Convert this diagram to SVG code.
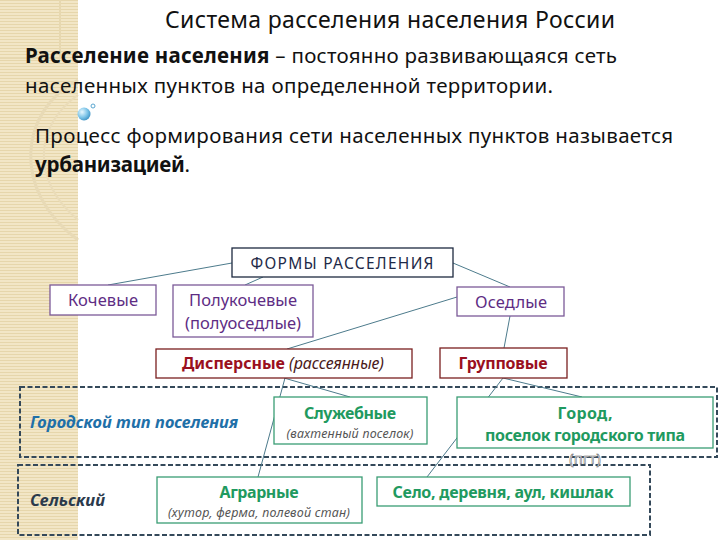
<svg xmlns="http://www.w3.org/2000/svg" width="720" height="540" viewBox="0 0 720 540">
<defs>
<pattern id="stripes" width="6" height="3" patternUnits="userSpaceOnUse">
<rect width="6" height="3" fill="#f2e6c6"/>
<rect width="6" height="1" fill="#e6d6ab"/>
</pattern>
<radialGradient id="bub" cx="0.35" cy="0.35" r="0.7">
<stop offset="0" stop-color="#e8f8ff"/>
<stop offset="0.6" stop-color="#7cc4e8"/>
<stop offset="1" stop-color="#3f93c4"/>
</radialGradient>
<style>
text{font-family:"Noto Sans","Open Sans","DejaVu Sans",sans-serif;}
.head{font-size:20.5px;fill:#111;}
.title{font-size:23px;fill:#111;}
.b{font-weight:bold;}
.node{fill:#fff;stroke-width:1.3;}
.nav{stroke:#1e2a40;}
.pur{stroke:#7c5a98;}
.red{stroke:#7a1f1f;}
.grn{stroke:#3a9d74;}
.tnav{fill:#1e2a48;font-size:15.5px;}
.tpur{fill:#5e2d84;font-size:16.5px;}
.tred{fill:#9a1020;font-size:16px;font-weight:bold;}
.tgrn{fill:#1f9a60;font-size:16px;font-weight:bold;}
.tsm{fill:#555;font-size:12.5px;font-style:italic;}
.dash{fill:none;stroke:#34495a;stroke-width:2;stroke-dasharray:5 2.5;}
.conn line{stroke:#4d7b8c;stroke-width:1;}
</style>
</defs>
<rect width="720" height="540" fill="#fff"/>
<g id="strip">
<rect x="0" y="0" width="78" height="540" fill="url(#stripes)"/>
<path d="M60,0 L60,58 L0,58" fill="none" stroke="#e7d8b0" stroke-width="2"/>
<path d="M78,80 C20,110 10,190 78,240" fill="none" stroke="#e8dab6" stroke-width="3"/>
<path d="M78,95 C35,125 30,180 78,220" fill="none" stroke="#eadcb9" stroke-width="2"/>
</g>
<g id="bubble">
<circle cx="84" cy="114" r="6.5" fill="url(#bub)"/>
<circle cx="93" cy="106" r="2" fill="#fff" stroke="#5aa6d0" stroke-width="1"/>
</g>
<g id="header">
<text x="390" y="28" text-anchor="middle" class="title" textLength="450">Система расселения населения России</text>
<text x="25" y="63" class="head" textLength="592"><tspan class="b">Расселение населения</tspan> – постоянно развивающаяся сеть</text>
<text x="25" y="93" class="head" textLength="528">населенных пунктов на определенной территории.</text>
<text x="35" y="143" class="head" textLength="638">Процесс формирования сети населенных пунктов называется</text>
<text x="35" y="172" class="head" textLength="155"><tspan class="b">урбанизацией</tspan>.</text>
</g>
<g id="zones">
<rect id="zone-city" x="20" y="387" width="697" height="70" class="dash"/>
<rect id="zone-rural" x="18" y="465" width="632" height="70" class="dash"/>
</g>
<g class="conn" id="connectors">
<line x1="232" y1="263" x2="108" y2="285"/>
<line x1="263" y1="277" x2="245" y2="285"/>
<line x1="453" y1="263" x2="510" y2="287"/>
<line x1="457" y1="297" x2="287" y2="349"/>
<line x1="510" y1="316" x2="504" y2="348"/>
<line x1="284" y1="378" x2="350" y2="397"/>
<line x1="285" y1="378" x2="258" y2="477"/>
<line x1="503" y1="378" x2="582" y2="397"/>
<line x1="503" y1="378" x2="427" y2="477"/>
</g>
<g id="n-formy">
<rect x="232" y="248" width="221" height="29" class="node nav"/>
<text x="342" y="269" text-anchor="middle" class="tnav" textLength="183">ФОРМЫ РАССЕЛЕНИЯ</text>
</g>
<g id="n-kochevye">
<rect x="50" y="285" width="106" height="30" class="node pur"/>
<text x="103" y="306" text-anchor="middle" class="tpur" textLength="70">Кочевые</text>
</g>
<g id="n-polukochevye">
<rect x="173" y="285" width="140" height="52" class="node pur"/>
<text x="243" y="306" text-anchor="middle" class="tpur" textLength="108">Полукочевые</text>
<text x="243" y="329" text-anchor="middle" class="tpur" textLength="116">(полуоседлые)</text>
</g>
<g id="n-osedlye">
<rect x="457" y="287" width="107" height="29" class="node pur"/>
<text x="511" y="308" text-anchor="middle" class="tpur" textLength="72">Оседлые</text>
</g>
<g id="n-dispersnye">
<rect x="156" y="349" width="256" height="29" class="node red"/>
<text x="283" y="369" text-anchor="middle" class="tred" textLength="202">Дисперсные <tspan font-weight="normal" font-style="italic" fill="#4a1a1a">(рассеянные)</tspan></text>
</g>
<g id="n-gruppovye">
<rect x="440" y="348" width="127" height="30" class="node red"/>
<text x="503" y="369" text-anchor="middle" class="tred" textLength="89">Групповые</text>
</g>
<g id="l-city">
<text x="30" y="428" font-size="16.5" font-style="italic" font-weight="bold" fill="#1f70a8" textLength="208">Городской тип поселения</text>
</g>
<g id="n-sluzhebnye">
<rect x="274" y="397" width="153" height="47" class="node grn"/>
<text x="350" y="419" text-anchor="middle" class="tgrn" textLength="92">Служебные</text>
<text x="350" y="438" text-anchor="middle" class="tsm" textLength="127">(вахтенный поселок)</text>
</g>
<g id="n-gorod">
<rect x="457" y="397" width="256" height="51" class="node grn"/>
<text x="585" y="419" text-anchor="middle" class="tgrn" textLength="55">Город,</text>
<text x="585" y="441" text-anchor="middle" class="tgrn" textLength="200">поселок городского типа</text>
</g>
<g id="l-pgt">
<text x="585" y="464" text-anchor="middle" font-size="15" fill="#fafafa" stroke="#666" stroke-width="0.55">(пгт)</text>
</g>
<g id="l-rural">
<text x="30" y="506" font-size="16.5" font-style="italic" font-weight="bold" fill="#2b3a4c" textLength="75">Сельский</text>
</g>
<g id="n-agrarnye">
<rect x="157" y="477" width="205" height="46" class="node grn"/>
<text x="259" y="498" text-anchor="middle" class="tgrn" textLength="79">Аграрные</text>
<text x="259" y="517" text-anchor="middle" class="tsm" textLength="182">(хутор, ферма, полевой стан)</text>
</g>
<g id="n-selo">
<rect x="377" y="477" width="253" height="29" class="node grn"/>
<text x="503" y="498" text-anchor="middle" class="tgrn" textLength="221">Село, деревня, аул, кишлак</text>
</g>
</svg>
